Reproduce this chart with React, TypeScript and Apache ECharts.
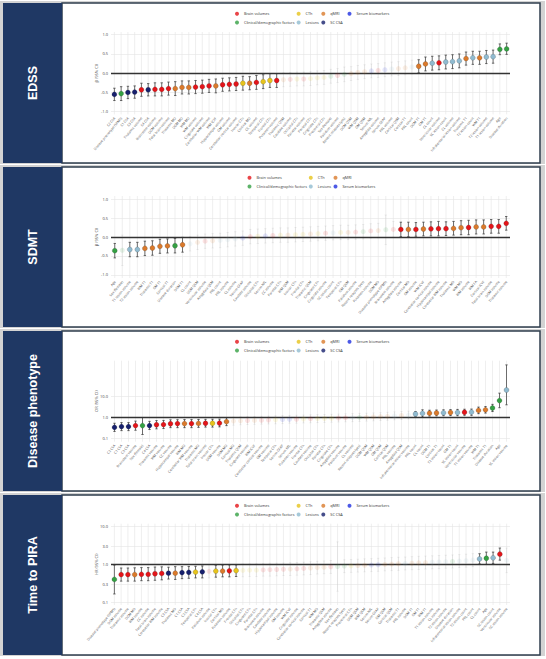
import React, { useEffect, useRef } from "react";
import * as echarts from "echarts";

// ---------- groups ----------
const GROUP_NAMES = [
  "Brain volumes",
  "CTh",
  "qMRI",
  "Serum biomarkers",
  "Clinical/demographic factors",
  "Lesions",
  "SC CSA",
];
const GROUP_CODES = ["B", "C", "Q", "S", "D", "L", "N"];
const GROUP_COLORS = ["#e3151a", "#e6c31c", "#da7a2c", "#1f2fe0", "#34a043", "#90bbd0", "#17206d"];

// ---------- EDSS ----------
const edssLabels = ["C2 CSA","Disease phenotype (SPMS)","C1 CSA","C3 CSA","Thalamic volume","C4 CSA","Brainstem volume","DGM volume","Total brain volume","Thalamic MD","DGM MD","WM MD","WM volume","Cingulate volume","Cerebellar WM volume","WM ICVF","Hippocampal volume","GM volume","Cerebellar cortical volume","Insular CTh","Cortical MD","CC volume","Temporal CTh","Frontal CTh","Putamen volume","Thalamic QSM","Caudate volume","Occipital CTh","Parietal volume","Parietal CTh","Cingulate CTh","Precentral CTh","Sex (female)","Pallidum volume","Recent relapses (yes)","DGM QSM","WM QSM","GM QSM","Serum NfL","Amygdala volume","Serum GFAP","PRL volume","Cortical QSM","Cortical T1","PRL count","DGM T1","GM T1","CL count","Ventricular volume","SC lesion count","CL volume","Infratentorial lesion volume","Thalamic T1","T2 lesion count","WM T1","T2 lesion volume","T1 lesion volume","Age","Disease duration"];
const edssGroups = "N D N N B N B B B Q Q Q B B B Q B B B C Q B C C B Q B C B C C C D B D Q Q Q S B S L Q Q L Q Q L B L L L Q L Q L L D D".split(" ");
const edssEst = [-0.55,-0.53,-0.50,-0.49,-0.43,-0.43,-0.42,-0.42,-0.40,-0.40,-0.37,-0.37,-0.36,-0.35,-0.33,-0.33,-0.30,-0.29,-0.28,-0.26,-0.26,-0.24,-0.22,-0.19,-0.19,-0.17,-0.16,-0.15,-0.15,-0.14,-0.12,-0.11,-0.08,-0.06,-0.03,-0.01,0.02,0.04,0.06,0.07,0.09,0.11,0.12,0.14,0.16,0.18,0.24,0.26,0.27,0.29,0.30,0.32,0.38,0.40,0.40,0.42,0.43,0.62,0.63];
const edssLo = [-0.71,-0.71,-0.66,-0.65,-0.60,-0.59,-0.59,-0.59,-0.57,-0.58,-0.54,-0.54,-0.53,-0.52,-0.50,-0.51,-0.47,-0.46,-0.45,-0.44,-0.43,-0.42,-0.40,-0.37,-0.37,-0.35,-0.34,-0.33,-0.33,-0.32,-0.30,-0.29,-0.26,-0.24,-0.22,-0.19,-0.16,-0.14,-0.12,-0.11,-0.09,-0.07,-0.06,-0.04,-0.02,0.01,0.06,0.08,0.09,0.11,0.12,0.14,0.21,0.23,0.23,0.25,0.26,0.48,0.49];
const edssHi = [-0.39,-0.35,-0.34,-0.33,-0.26,-0.27,-0.25,-0.25,-0.23,-0.22,-0.20,-0.20,-0.19,-0.18,-0.16,-0.15,-0.13,-0.12,-0.11,-0.08,-0.09,-0.06,-0.04,-0.01,-0.01,0.01,0.02,0.03,0.03,0.04,0.06,0.07,0.10,0.12,0.16,0.17,0.20,0.22,0.24,0.25,0.27,0.29,0.30,0.32,0.34,0.35,0.42,0.44,0.45,0.47,0.48,0.50,0.55,0.57,0.57,0.59,0.60,0.76,0.78];

// ---------- SDMT ----------
const sdmtLabels = ["Age","Sex (female)","T1 lesion volume","T2 lesion volume","WM T1","Thalamic T1","GM T1","Cortical T1","Disease duration","DGM T1","CL count","DGM QSM","Ventricular volume","Amygdala QSM","PRL count","PRL volume","CL volume","Serum GFAP","Caudate volume","Occipital CTh","Serum NfL","CC volume","Parietal CTh","WM QSM","Insular CTh","Frontal CTh","Thalamic QSM","Cingulate CTh","Cingulate volume","SC lesion count","Temporal CTh","GM QSM","Pallidum volume","Recent relapses (yes)","Putamen volume","DGM MD","Disease phenotype (SPMS)","Brainstem volume","Amygdala volume","Cortical MD","GM volume","WM ICVF","Cerebellar cortical volume","Hippocampal volume","Cerebellar WM volume","Thalamic MD","WM MD","WM volume","WM FA","Cortical ICVF","Total brain volume","DGM volume","Thalamic volume"];
const sdmtGroups = "D D L L Q Q Q Q D Q L Q B Q L L L S B C S B C Q C C Q C B L C Q B D B Q D B B Q B Q B B B Q Q B Q Q B B B".split(" ");
const sdmtEst = [-0.36,-0.35,-0.33,-0.33,-0.30,-0.29,-0.245,-0.235,-0.23,-0.205,-0.18,-0.14,-0.11,-0.10,-0.09,-0.07,-0.05,-0.03,0.01,0.02,0.03,0.04,0.05,0.05,0.06,0.07,0.08,0.09,0.10,0.11,0.12,0.12,0.13,0.14,0.16,0.17,0.19,0.20,0.20,0.20,0.20,0.21,0.215,0.22,0.22,0.225,0.245,0.25,0.265,0.265,0.28,0.28,0.36];
const sdmtLo = [-0.55,-0.75,-0.52,-0.52,-0.49,-0.48,-0.43,-0.42,-0.42,-0.40,-0.37,-0.33,-0.30,-0.29,-0.28,-0.26,-0.24,-0.22,-0.18,-0.17,-0.16,-0.15,-0.14,-0.14,-0.13,-0.12,-0.11,-0.10,-0.09,-0.08,-0.07,-0.07,-0.06,-0.05,-0.03,-0.02,-0.20,-0.01,0.01,0.01,0.02,0.03,0.03,0.03,0.04,0.05,0.06,0.06,0.08,0.08,0.10,0.10,0.18];
const sdmtHi = [-0.17,0.05,-0.14,-0.14,-0.11,-0.10,-0.06,-0.05,-0.04,-0.01,0.01,0.05,0.08,0.09,0.10,0.12,0.14,0.16,0.20,0.21,0.22,0.23,0.24,0.24,0.25,0.26,0.27,0.28,0.29,0.30,0.31,0.31,0.32,0.33,0.35,0.36,0.58,0.41,0.39,0.39,0.38,0.39,0.40,0.41,0.40,0.41,0.43,0.44,0.45,0.45,0.46,0.46,0.54];

// ---------- Disease phenotype (OR) ----------
const dpLabels = ["C2 CSA","C1 CSA","C3 CSA","Brainstem volume","Sex (female)","C4 CSA","Thalamic volume","WM volume","CC volume","Hippocampal volume","WM MD","Cerebellar WM volume","Thalamic MD","Total brain volume","Insular CTh","DGM volume","DGM MD","Cortical MD","Thalamic QSM","Cingulate volume","WM ICVF","Cerebellar cortical volume","GM volume","Temporal CTh","Serum GFAP","Serum NfL","Putamen volume","Frontal CTh","Caudate volume","Occipital CTh","Parietal CTh","Cingulate CTh","Amygdala volume","Pallidum volume","CL volume","Recent relapses (yes)","DGM QSM","WM QSM","GM QSM","Cortical QSM","PRL volume","Amygdala QSM","Infratentorial lesion volume","PRL count","CL count","DGM T1","Cortical T1","T2 lesion count","GM T1","SC lesion count","Ventricular volume","T1 lesion volume","WM T1","Thalamic T1","Disease duration","Age","SC lesion volume"];
const dpGroups = "N N N B D N B B B B Q B Q B C B Q Q Q B Q B B C S S B C B C C C B B L D Q Q Q Q L Q L L L Q Q L Q L B L Q Q D D L".split(" ");
const dpEst = [0.33,0.36,0.36,0.40,0.40,0.40,0.44,0.45,0.49,0.50,0.50,0.50,0.51,0.52,0.52,0.53,0.62,0.66,0.68,0.70,0.71,0.72,0.74,0.76,0.78,0.80,0.81,0.83,0.85,0.87,0.88,0.90,0.93,0.95,0.97,1.00,1.02,1.05,1.08,1.12,1.18,1.22,1.28,1.45,1.55,1.58,1.62,1.65,1.70,1.70,1.75,1.78,2.15,2.30,2.80,6.40,20.5];
const dpLo = [0.21,0.23,0.23,0.24,0.15,0.26,0.28,0.29,0.32,0.32,0.32,0.32,0.33,0.34,0.34,0.35,0.40,0.42,0.44,0.45,0.46,0.47,0.48,0.49,0.50,0.52,0.52,0.54,0.55,0.56,0.57,0.58,0.60,0.61,0.62,0.64,0.66,0.68,0.70,0.72,0.76,0.79,0.83,1.10,1.05,1.15,1.18,1.20,1.22,1.20,1.25,1.25,1.50,1.60,1.90,2.90,4.0];
const dpHi = [0.52,0.56,0.56,0.66,0.98,0.64,0.70,0.71,0.76,0.77,0.78,0.78,0.79,0.80,0.81,0.82,0.96,1.03,1.06,1.09,1.10,1.12,1.15,1.18,1.21,1.24,1.26,1.29,1.32,1.35,1.37,1.40,1.44,1.48,1.51,1.55,1.58,1.63,1.68,1.74,1.83,1.90,1.98,1.90,2.30,2.20,2.25,2.30,2.35,2.40,2.45,2.50,3.10,3.30,4.20,14.5,330];

// ---------- Time to PIRA (HR) ----------
const piraLabels = ["Disease phenotype (SPMS)","DGM volume","Thalamic volume","DGM MD","WM volume","CC volume","Total brain volume","Cerebellar WM volume","C3 CSA","Thalamic MD","C1 CSA","C2 CSA","Temporal CTh","C4 CSA","Pallidum volume","Insular CTh","Cortical MD","Putamen volume","Frontal CTh","Occipital CTh","Cingulate CTh","Parietal CTh","Brainstem volume","Caudate volume","Hippocampal volume","GM volume","WM ICVF","Cingulate volume","Cerebellar cortical volume","Cortical T1","WM MD","Thalamic QSM","Amygdala volume","Sex (female)","Recent relapses (yes)","Precentral CTh","DGM QSM","WM QSM","Serum NfL","Serum GFAP","GM QSM","Cortical QSM","Thalamic T1","PRL volume","DGM T1","GM T1","WM T1","T1 lesion volume","CL volume","T2 lesion volume","Disease duration","Infratentorial lesion volume","T2 lesion count","PRL count","CL count","Age","SC lesion count","Ventricular volume","SC lesion volume"];
const piraGroups = "D B B Q B B B B N Q N N C N B C Q B C C C C B B B B Q B B Q Q Q B D D C Q Q S S Q Q Q L Q Q Q L L L D L L L L D L B L".split(" ");
const piraEst = [0.41,0.55,0.55,0.55,0.56,0.56,0.58,0.59,0.60,0.60,0.62,0.63,0.64,0.65,0.67,0.68,0.68,0.69,0.70,0.71,0.72,0.72,0.73,0.74,0.75,0.76,0.77,0.78,0.80,0.82,0.84,0.86,0.88,0.90,0.92,0.93,0.95,0.97,0.98,1.00,1.02,1.04,1.06,1.08,1.10,1.12,1.14,1.16,1.18,1.20,1.22,1.25,1.28,1.32,1.42,1.48,1.52,1.90,1.30];
const piraLo = [0.17,0.37,0.37,0.37,0.38,0.38,0.39,0.40,0.42,0.41,0.43,0.44,0.45,0.45,0.45,0.47,0.48,0.48,0.49,0.48,0.49,0.49,0.50,0.50,0.51,0.52,0.52,0.53,0.54,0.55,0.57,0.58,0.59,0.20,0.62,0.63,0.64,0.65,0.66,0.67,0.69,0.70,0.71,0.73,0.74,0.75,0.77,0.78,0.79,0.81,0.82,0.84,0.86,0.89,1.05,1.02,1.08,1.32,0.62];
const piraHi = [0.98,0.82,0.82,0.83,0.84,0.84,0.87,0.88,0.86,0.89,0.89,0.90,0.91,0.93,1.00,0.97,0.98,0.99,0.99,1.05,1.06,1.06,1.07,1.09,1.10,1.11,1.13,1.14,1.17,1.20,1.23,1.26,1.29,4.00,1.35,1.37,1.40,1.43,1.45,1.48,1.51,1.54,1.57,1.60,1.63,1.66,1.69,1.72,1.75,1.78,1.81,1.85,1.90,1.96,1.95,2.15,2.15,2.75,2.75];

// ---------- axis ticks ----------
const linTicks = [-1, -0.5, 0, 0.5, 1];
const linTickLabels = ["-1.0", "-0.5", "0.0", "0.5", "1.0"];
const dpTicks = [0.1, 1, 10];
const dpTickLabels = ["0.1", "1.0", "10.0"];
const piraTicks = [0.1, 0.3, 1, 3, 10];
const piraTickLabels = ["0.1", "0.3", "1.0", "3.0", "10.0"];

const PANELS = [
  { title: "EDSS", yName: "β (95% CI)", log: false, labels: edssLabels, groups: edssGroups, est: edssEst, lo: edssLo, hi: edssHi, ticks: linTicks, tickLabels: linTickLabels, min: -1.07, max: 1.07, legendX: [237, 298.6, 323.3, 349.5], legendRows: [[0, 1, 2, 3], [4, 5, 6]] },
  { title: "SDMT", yName: "β (95% CI)", log: false, labels: sdmtLabels, groups: sdmtGroups, est: sdmtEst, lo: sdmtLo, hi: sdmtHi, ticks: linTicks, tickLabels: linTickLabels, min: -1.08, max: 1.08, legendX: [249.5, 310.8, 335.5], legendRows: [[0, 1, 2], [4, 5, 3]] },
  { title: "Disease phenotype", yName: "OR (95% CI)", log: true, labels: dpLabels, groups: dpGroups, est: dpEst, lo: dpLo, hi: dpHi, ticks: dpTicks, tickLabels: dpTickLabels, min: -1.17, max: 2.72, legendX: [237, 298.6, 323.3, 349.5], legendRows: [[0, 1, 2, 3], [4, 5, 6]] },
  { title: "Time to PIRA", yName: "HR (95% CI)", log: true, labels: piraLabels, groups: piraGroups, est: piraEst, lo: piraLo, hi: piraHi, ticks: piraTicks, tickLabels: piraTickLabels, min: -1.06, max: 1.08, legendX: [237, 298.6, 323.3, 349.5], legendRows: [[0, 1, 2, 3], [4, 5, 6]] },
];

const W = 546;
const H = 659;
const PANEL_TOPS = [3, 167, 331, 495];
const PANEL_H = 160;
const GRID_TOP_OFF = [29, 29, 29.7, 28.7];
const GRID_H = [82.4, 82, 81, 81.3];
const FONT = '"Open Sans", "Liberation Sans", Arial, sans-serif';

function buildOption() {
  const grid: any[] = [];
  const xAxis: any[] = [];
  const yAxis: any[] = [];
  const series: any[] = [];
  const legend: any[] = [];
  const graphic: any[] = [];

  PANELS.forEach((p, k) => {
    const T = PANEL_TOPS[k];
    const tf = (v: number) => (p.log ? Math.log10(v) : v);
    const ref = p.log ? 1 : 0;

    graphic.push(
      { type: "rect", z: -10, shape: { x: 0, y: T - 2, width: 545, height: PANEL_H + 3 }, style: { fill: "#d3d3d3" } },
      { type: "rect", z: -9, shape: { x: 62, y: T, width: 478, height: PANEL_H }, style: { fill: "#ffffff", stroke: "#2f3e4e", lineWidth: 1.5 } },
      { type: "rect", z: -8, shape: { x: 3, y: T, width: 59, height: PANEL_H }, style: { fill: "#1f3864" } },
      {
        type: "text", z: -7, x: 33, y: T + PANEL_H / 2, rotation: Math.PI / 2,
        style: { text: p.title, fill: "#ffffff", font: 'bold 12.5px "Liberation Sans", Arial, sans-serif', textAlign: "center", textVerticalAlign: "middle" },
      }
    );

    grid.push({ left: 111, width: 399, top: T + GRID_TOP_OFF[k], height: GRID_H[k], containLabel: false });
    xAxis.push({
      type: "category", gridIndex: k, data: p.labels, boundaryGap: true,
      axisLine: { show: false }, axisTick: { show: false }, splitLine: { show: false },
      axisLabel: { interval: 0, rotate: 50, fontSize: 3.4, color: "#555", margin: 3, fontFamily: FONT },
    });
    yAxis.push({
      type: "value", gridIndex: k, min: p.min, max: p.max,
      axisLine: { show: false }, axisTick: { show: false }, splitLine: { show: false }, axisLabel: { show: false },
      name: p.yName, nameLocation: "middle", nameGap: 13, nameRotate: 90,
      nameTextStyle: { fontSize: 4, color: "#444", fontFamily: FONT },
    });

    // vertical grid lines
    series.push({
      type: "custom", xAxisIndex: k, yAxisIndex: k, z: 1, silent: true,
      data: p.labels.map((_, i) => [i, 0]),
      encode: { x: 0, y: 1 },
      renderItem: (params: any, api: any) => {
        const cs = params.coordSys;
        const x = api.coord([api.value(0), 0])[0];
        return { type: "line", shape: { x1: x, y1: cs.y, x2: x, y2: cs.y + cs.height }, style: { stroke: "#e4e4e4", lineWidth: 0.6 } };
      },
    });

    // horizontal grid + tick labels + reference line
    series.push({
      type: "line", xAxisIndex: k, yAxisIndex: k, z: 2, silent: true, showSymbol: false, symbol: "none",
      data: p.est.map((v, i) => [i, tf(v)]),
      lineStyle: { opacity: 0, width: 0 },
      markLine: {
        silent: true, z: 2, symbol: ["none", "none"], animation: false,
        data: p.ticks.map((t, j) => ({
          yAxis: tf(t),
          lineStyle: t === ref ? { color: "#333333", width: 1.3, type: "solid" } : { color: "#e4e4e4", width: 0.6, type: "solid" },
          label: { show: true, position: "start", formatter: p.tickLabels[j], fontSize: 4, color: "#444", distance: 3, fontFamily: FONT },
        })),
      },
    });

    // error bars
    series.push({
      type: "custom", xAxisIndex: k, yAxisIndex: k, z: 3, silent: true,
      data: p.est.map((_, i) => [i, tf(p.lo[i]), tf(p.hi[i]), p.hi[i] < ref || p.lo[i] > ref ? 1 : 0]),
      encode: { x: 0, y: [1, 2] },
      renderItem: (params: any, api: any) => {
        const i = api.value(0);
        const a = api.coord([i, api.value(1)]);
        const b = api.coord([i, api.value(2)]);
        const op = api.value(3) ? 1 : 0.1;
        const x = a[0];
        const st = { stroke: "#333333", lineWidth: 0.7, opacity: op };
        return {
          type: "group",
          children: [
            { type: "line", shape: { x1: x, y1: a[1], x2: x, y2: b[1] }, style: st },
            { type: "line", shape: { x1: x - 1.2, y1: a[1], x2: x + 1.2, y2: a[1] }, style: st },
            { type: "line", shape: { x1: x - 1.2, y1: b[1], x2: x + 1.2, y2: b[1] }, style: st },
          ],
        };
      },
    });

    // points per group
    GROUP_CODES.forEach((code, g) => {
      const data: any[] = [];
      p.groups.forEach((gc, i) => {
        if (gc !== code) return;
        const sig = p.hi[i] < ref || p.lo[i] > ref;
        data.push({
          value: [i, tf(p.est[i])],
          itemStyle: sig ? { opacity: 1 } : { opacity: 0.12, borderWidth: 0 },
        });
      });
      if (!data.length) return;
      series.push({
        type: "scatter", name: GROUP_NAMES[g], xAxisIndex: k, yAxisIndex: k, z: 4,
        symbol: "circle", symbolSize: 5,
        itemStyle: { color: GROUP_COLORS[g], borderColor: "rgba(50,50,50,0.5)", borderWidth: 0.4 },
        data,
      });
    });

    // legends
    p.legendRows.forEach((row, r) => {
      const y = T + (r === 0 ? 11.3 : 20);
      row.forEach((g, c) => {
        legend.push({
          data: [GROUP_NAMES[g]], left: p.legendX[c] - 2, top: y - 2.5, orient: "horizontal",
          icon: "circle", itemWidth: 4, itemHeight: 4, itemGap: 0, padding: 0, selectedMode: false,
          itemStyle: { borderWidth: 0 },
          textStyle: { fontSize: 3.8, color: "#333", fontFamily: FONT },
        });
      });
    });
  });

  return {
    animation: false,
    backgroundColor: "#ffffff",
    textStyle: { fontFamily: FONT },
    graphic: { elements: graphic },
    grid, xAxis, yAxis, series, legend,
  };
}

export default function App() {
  const ref = useRef<HTMLDivElement>(null);
  useEffect(() => {
    const chart = echarts.init(ref.current!, null, { renderer: "svg", width: W, height: H });
    chart.setOption(buildOption());
    return () => chart.dispose();
  }, []);
  return <div ref={ref} style={{ position: "fixed", left: 0, top: 0, width: W, height: H, background: "#fff" }} />;
}
